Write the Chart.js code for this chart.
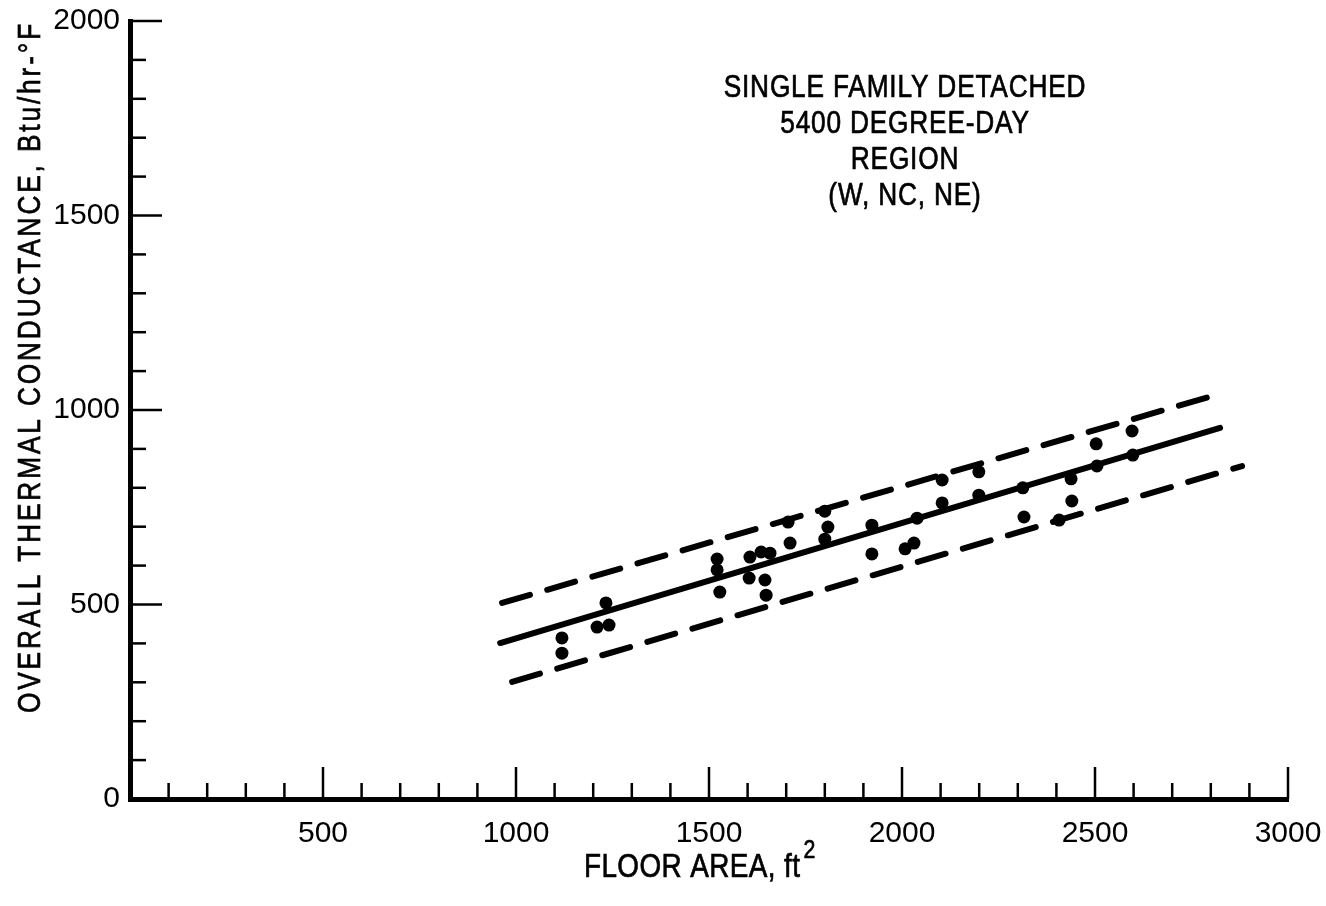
<!DOCTYPE html>
<html>
<head>
<meta charset="utf-8">
<title>Overall thermal conductance vs floor area</title>
<script src="https://cdn.jsdelivr.net/npm/chart.js@4.4.1/dist/chart.umd.min.js"></script>
<style>
  html, body { margin: 0; padding: 0; background: #fff; }
  #wrap { width: 1326px; height: 906px; position: relative; }
</style>
</head>
<body>
<div id="wrap"><canvas id="chart"></canvas></div>
<script>
const FONT = "'Liberation Sans', Arial, sans-serif";
const NARROW = 0.82; // squeeze factor to get the narrow lettering of the original

// measured houses (ft2, Btu/hr-F)
const floorArea = [1119, 1119, 1210, 1241, 1233, 1521, 1521, 1528, 1606, 1604, 1635, 1658, 1645, 1648,
  1705, 1710, 1800, 1808, 1800, 1922, 1922, 2008, 2031, 2039, 2104, 2104, 2199, 2199,
  2313, 2316, 2407, 2438, 2440, 2503, 2505, 2596, 2598];
const conductance = [414, 375, 442, 447, 504, 617, 589, 532, 622, 568, 635, 632, 563, 524,
  712, 658, 740, 699, 668, 704, 630, 643, 658, 722, 820, 761, 841, 781,
  800, 725, 717, 823, 766, 913, 856, 946, 884];

// fitted line and the band either side of it
const fitX = [959, 2824];
const fitY = [401, 954];
const upperX = [964, 2793];
const upperY = [504, 1033];
const lowerX = [990, 2881];
const lowerY = [301, 856];

const xTickLabels = [500, 1000, 1500, 2000, 2500, 3000];
const yTickLabels = [0, 500, 1000, 1500, 2000];

const noteLines = ['SINGLE FAMILY DETACHED', '5400 DEGREE-DAY', 'REGION', '(W, NC, NE)'];
const xTitle = 'FLOOR AREA, ft';
const yTitle = 'OVERALL THERMAL CONDUCTANCE, Btu/hr-\u00B0F';

const toPoints = (xs, ys) => xs.map((x, i) => ({ x, y: ys[i] }));

// inward tick marks, long ones at the labelled values
const tickMarks = {
  id: 'tickMarks',
  afterDraw(chart) {
    const ctx = chart.ctx;
    const { x, y } = chart.scales;
    const area = chart.chartArea;
    ctx.save();
    ctx.strokeStyle = '#000';
    ctx.lineWidth = 2.5;
    x.ticks.forEach((t) => {
      if (t.value === 0) return;
      const px = x.getPixelForValue(t.value);
      const len = xTickLabels.includes(t.value) ? 32 : 16;
      ctx.beginPath();
      ctx.moveTo(px, area.bottom);
      ctx.lineTo(px, area.bottom - len);
      ctx.stroke();
    });
    y.ticks.forEach((t) => {
      if (t.value === 0) return;
      const py = y.getPixelForValue(t.value);
      const len = yTickLabels.includes(t.value) ? 32 : 16;
      ctx.beginPath();
      ctx.moveTo(area.left, py);
      ctx.lineTo(area.left + len, py);
      ctx.stroke();
    });
    ctx.restore();
  },
};

// narrow text: anchor at (x, y), squeezed horizontally
function narrowText(ctx, text, x, y, size, spacing, align) {
  ctx.save();
  ctx.translate(x, y);
  ctx.scale(NARROW, 1);
  ctx.font = size + 'px ' + FONT;
  ctx.letterSpacing = spacing + 'px';
  ctx.textAlign = align;
  ctx.textBaseline = 'alphabetic';
  ctx.lineWidth = 0.7;
  ctx.strokeStyle = '#000';
  ctx.fillText(text, 0, 0);
  ctx.strokeText(text, 0, 0);
  const w = ctx.measureText(text).width * NARROW;
  ctx.restore();
  return w;
}

// titles and the note block
const texts = {
  id: 'texts',
  afterDraw(chart) {
    const ctx = chart.ctx;
    ctx.save();
    ctx.fillStyle = '#000';

    noteLines.forEach((line, i) => narrowText(ctx, line, 905, 97 + i * 36, 32, 1, 'center'));

    const w = narrowText(ctx, xTitle, 584, 877, 34, 0.5, 'left');
    narrowText(ctx, '2', 584 + w + 3, 858, 26, 0, 'left');

    ctx.save();
    ctx.translate(40, 367);
    ctx.rotate(-Math.PI / 2);
    narrowText(ctx, yTitle, 0, 0, 32, 3.5, 'center');
    ctx.restore();

    ctx.restore();
  },
};

const lineStyle = {
  showLine: true,
  pointRadius: 0,
  borderColor: '#000',
  borderWidth: 6,
  borderCapStyle: 'round',
  fill: false,
};

new Chart(document.getElementById('chart'), {
  type: 'scatter',
  data: {
    datasets: [
      { ...lineStyle, data: toPoints(fitX, fitY) },
      { ...lineStyle, data: toPoints(upperX, upperY), borderDash: [29, 18] },
      { ...lineStyle, data: toPoints(lowerX, lowerY), borderDash: [29, 18] },
      {
        data: toPoints(floorArea, conductance),
        pointRadius: 6.5,
        pointBackgroundColor: '#000',
        pointBorderWidth: 0,
      },
    ],
  },
  options: {
    responsive: true,
    maintainAspectRatio: false,
    animation: false,
    layout: { padding: { left: 0, right: 38, top: 21, bottom: 0 } },
    plugins: {
      legend: { display: false },
      tooltip: { enabled: false },
    },
    scales: {
      x: {
        type: 'linear',
        min: 0,
        max: 3000,
        afterFit: (scale) => {
          scale.height = 107;
          scale.paddingLeft = 0;
          scale.paddingRight = 0;
        },
        grid: { display: true, drawOnChartArea: false, drawTicks: false },
        border: { display: true, color: '#000', width: 5 },
        ticks: {
          stepSize: 100,
          autoSkip: false,
          maxRotation: 0,
          padding: 17,
          color: '#000',
          font: { family: FONT, size: 30 },
          callback: (v) => (xTickLabels.includes(v) ? String(v) : ''),
        },
      },
      y: {
        type: 'linear',
        min: 0,
        max: 2000,
        afterFit: (scale) => {
          scale.width = 130;
          scale.paddingTop = 0;
          scale.paddingBottom = 0;
        },
        grid: { display: true, drawOnChartArea: false, drawTicks: false },
        border: { display: true, color: '#000', width: 5 },
        ticks: {
          stepSize: 100,
          autoSkip: false,
          padding: 10,
          color: '#000',
          font: { family: FONT, size: 30 },
          callback: (v) => (yTickLabels.includes(v) ? String(v) : ''),
        },
      },
    },
  },
  plugins: [tickMarks, texts],
});
</script>
</body>
</html>
